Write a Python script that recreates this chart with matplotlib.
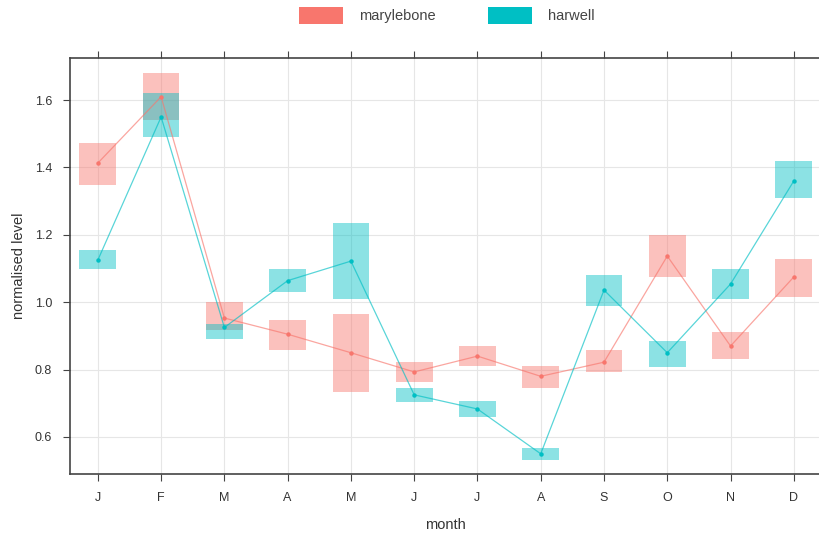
import matplotlib.pyplot as plt
from matplotlib.patches import Rectangle

months = ["J", "F", "M", "A", "M", "J", "J", "A", "S", "O", "N", "D"]

mary_mid = [1.413, 1.61, 0.953, 0.905, 0.85, 0.793, 0.84, 0.78, 0.822, 1.137, 0.87, 1.075]
mary_lo = [1.348, 1.54, 0.918, 0.858, 0.733, 0.763, 0.81, 0.746, 0.793, 1.075, 0.832, 1.015]
mary_hi = [1.472, 1.68, 1.0, 0.947, 0.965, 0.822, 0.87, 0.81, 0.858, 1.2, 0.912, 1.128]

harw_mid = [1.125, 1.55, 0.925, 1.064, 1.122, 0.725, 0.683, 0.55, 1.036, 0.85, 1.054, 1.36]
harw_lo = [1.10, 1.49, 0.89, 1.03, 1.01, 0.704, 0.66, 0.532, 0.99, 0.808, 1.01, 1.31]
harw_hi = [1.155, 1.62, 0.935, 1.10, 1.235, 0.745, 0.707, 0.567, 1.08, 0.885, 1.10, 1.42]

RED = "#F8766D"
TEAL = "#00BFC4"

plt.rcParams["font.family"] = ["Liberation Sans", "DejaVu Sans"]

fig = plt.figure(figsize=(8.2, 5.36), dpi=100)
# plot area runs past the right edge, as in the cropped original
ax = fig.add_axes([70 / 820, 1 - 474 / 536, 770 / 820, 416 / 536])

x = list(range(len(months)))
half = 0.29
for mid, lo, hi, col in [(mary_mid, mary_lo, mary_hi, RED), (harw_mid, harw_lo, harw_hi, TEAL)]:
    for i in x:
        ax.add_patch(Rectangle((i - half, lo[i]), 2 * half, hi[i] - lo[i],
                               facecolor=col, alpha=0.45, edgecolor="none", zorder=2))
    ax.plot(x, mid, color=col, lw=0.9, alpha=0.65, zorder=3)
    ax.plot(x, mid, "o", color=col, ms=2.2, zorder=4)

ax.set_xlim(-0.44, 11.73)
ax.set_ylim(0.49, 1.725)
ax.set_xticks(x)
ax.set_xticklabels(months)
ax.set_yticks([0.6, 0.8, 1.0, 1.2, 1.4, 1.6])
ax.set_yticklabels(["0.6", "0.8", "1.0", "1.2", "1.4", "1.6"])
ax.grid(True, color="#e6e6e6", lw=0.8, zorder=0)
ax.set_axisbelow(True)
ax.tick_params(direction="out", length=5, color="#444444", labelcolor="#333333",
               labelsize=9, top=True, right=True, pad=8)
for s in ax.spines.values():
    s.set_color("#444444")
    s.set_linewidth(1.2)
ax.set_xlabel("month", fontsize=10.5, color="#333333", labelpad=10, x=0.487)
ax.set_ylabel("normalised level", fontsize=10.5, color="#333333", labelpad=6)

handles = [Rectangle((0, 0), 1, 1, facecolor=RED, edgecolor="none"),
           Rectangle((0, 0), 1, 1, facecolor=TEAL, edgecolor="none")]
fig.legend(handles, ["marylebone", "harwell"], loc="upper center", ncol=2,
           bbox_to_anchor=(0.545, 1.012), frameon=False, fontsize=10.5,
           handlelength=3.0, handleheight=1.5, columnspacing=3.6, handletextpad=1.1,
           labelcolor="#444444")

fig.savefig("out.png", dpi=100)
